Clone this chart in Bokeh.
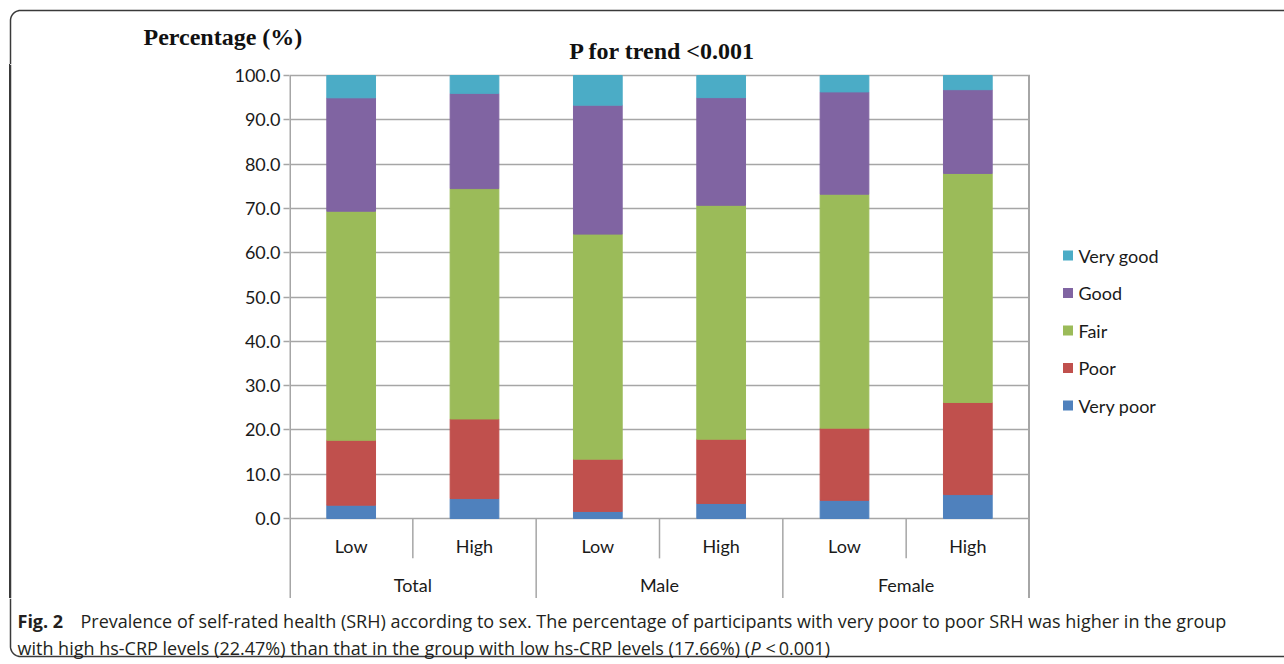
import numpy as np
from bokeh.plotting import figure
from bokeh.layouts import column, row
from bokeh.models import ColumnDataSource, Range1d, FixedTicker, NumeralTickFormatter
from bokeh.core.properties import value
from bokeh.embed import file_html
from bokeh.resources import INLINE

# ---- data ----
groups = ["Total", "Male", "Female"]
levels = ["Low", "High"]
series = ["Very poor", "Poor", "Fair", "Good", "Very good"]
very_poor = [3.0, 4.5, 1.6, 3.4, 4.1, 5.4]
poor = [14.66, 17.97, 11.8, 14.5, 16.3, 20.8]
fair = [51.7, 52.0, 50.8, 52.8, 52.8, 51.7]
good = [25.6, 21.5, 29.1, 24.3, 23.1, 18.9]
very_good = [5.04, 4.03, 6.7, 5.0, 3.7, 3.2]
y_ticks = [0, 10, 20, 30, 40, 50, 60, 70, 80, 90, 100]
colors = ["#4F81BD", "#C0504D", "#9BBB59", "#8064A2", "#4BACC6"]
y_title = "Percentage (%)"
chart_title = "P for trend <0.001"
cap_bold = "Fig. 2"
cap_line1 = ("Prevalence of self-rated health (SRH) according to sex. The percentage of participants "
             "with very poor to poor SRH was higher in the group")
cap_line2 = "with high hs-CRP levels (22.47%) than that in the group with low hs-CRP levels (17.66%) ("
cap_p = "P"
cap_end = "\u2009<\u20090.001)"

W, H = 1284, 664
TOP, BOT = 64, 598           # middle band spans canvas rows TOP..BOT
Y100, Y0 = 75, 518           # canvas rows of the 100 and 0 gridlines
LEFT = 200
BORDER = "#3a3a3a"
GRID = "#A6A6A6"
TXT = "#1a1a1a"
CAP = "#231F20"


def blank(width, height, x0, x1, y_top, y_bottom):
    f = figure(width=width, height=height, x_range=Range1d(x0, x1), y_range=Range1d(y_bottom, y_top),
               output_backend="svg", toolbar_location=None, x_axis_location=None,
               y_axis_location=None, min_border=0)
    f.outline_line_color = None
    f.xgrid.visible = False
    f.ygrid.visible = False
    f.background_fill_color = "white"
    f.border_fill_color = "white"
    return f


t = np.linspace(0, np.pi / 2, 12)

# ---- top band ----
top = blank(W, TOP, 0, W, 0, TOP)
cx, cy = 20 - 10 * np.cos(t), 20 - 10 * np.sin(t)
top.line(x=np.concatenate([[10], cx, [W + 5]]), y=np.concatenate([[TOP], cy, [10]]),
         line_color=BORDER, line_width=1.5)
top.text(x=[143], y=[36], text=[y_title], text_font=value("Liberation Serif"),
         text_font_style="bold", text_font_size=value("24px"), text_color="#111111",
         text_align="left", text_baseline="middle")
top.text(x=[662], y=[50], text=[chart_title], text_font=value("Liberation Serif"),
         text_font_style="bold", text_font_size=value("24px"), text_color="#111111",
         text_align="center", text_baseline="middle")

# ---- left band with border (glyph + CSS background as a fallback) ----
left = blank(LEFT, BOT - TOP, 0, LEFT, TOP, BOT)
left.background_fill_alpha = 0
left.border_fill_alpha = 0
left.styles = {"background": "linear-gradient(to right, #ffffff 0px, #ffffff 9px, #3a3a3a 9px, "
                             "#3a3a3a 10.5px, #ffffff 10.5px, #ffffff 100%)"}
left.quad(left=[9.25], right=[10.75], top=[TOP], bottom=[BOT], fill_color=BORDER, line_color=None)

# ---- main chart ----
n_lv = len(levels)
n_cat = len(groups) * n_lv
cat_labels = [l for g in groups for l in levels]
cat_x = np.arange(n_cat) + 0.5
grp_x = np.arange(len(groups)) * n_lv + n_lv / 2

keys = ["very_poor", "poor", "fair", "good", "very_good"]
src = ColumnDataSource(dict(x=cat_x, very_poor=very_poor, poor=poor, fair=fair,
                            good=good, very_good=very_good))

PPU = (Y0 - Y100) / 100.0
Y_LOW = -(BOT - Y0) / PPU
Y_HIGH = 100 + (Y100 - TOP) / PPU
FRAME_L = 289 - LEFT
FRAME_W = 741
p = figure(x_range=Range1d(0, n_cat * FRAME_W / 740), y_range=Range1d(Y_LOW, Y_HIGH),
           width=FRAME_L + FRAME_W, height=BOT - TOP, output_backend="svg", toolbar_location=None,
           min_border_left=FRAME_L, min_border_right=0, min_border_top=0, min_border_bottom=0)
p.outline_line_color = None
p.background_fill_color = "white"
p.border_fill_color = "white"

rs = p.vbar_stack(keys, x="x", width=0.395, color=colors, source=src)

p.xaxis.visible = False
p.xgrid.visible = False

yax = p.yaxis[0]
yax.ticker = FixedTicker(ticks=y_ticks)
yax.formatter = NumeralTickFormatter(format="0.0")
yax.axis_line_color = None
yax.major_tick_line_color = GRID
yax.major_tick_line_width = 1.5
yax.major_tick_out = 6
yax.major_tick_in = 0
yax.minor_tick_line_color = None
yax.major_label_text_font = "Lato"
yax.major_label_text_font_size = "18px"
yax.major_label_text_color = TXT
yax.major_label_standoff = 3

p.ygrid.ticker = FixedTicker(ticks=y_ticks)
p.ygrid.grid_line_color = GRID
p.ygrid.grid_line_width = 1.5

short_x = [gi * n_lv + j for gi in range(len(groups)) for j in range(1, n_lv)]
long_x = [gi * n_lv for gi in range(1, len(groups))]
p.segment(x0=[0, n_cat], x1=[0, n_cat], y0=[100, 100], y1=[Y_LOW, Y_LOW],
          line_color=GRID, line_width=3)
p.segment(x0=short_x, x1=short_x, y0=[0] * len(short_x), y1=[-9.0] * len(short_x),
          line_color=GRID, line_width=1.5)
p.segment(x0=long_x, x1=long_x, y0=[0] * len(long_x), y1=[Y_LOW] * len(long_x),
          line_color=GRID, line_width=1.5)

p.text(x=cat_x, y=[-6.1] * n_cat, text=cat_labels,
       text_font=value("Lato"), text_font_size=value("18px"), text_color=TXT,
       text_align="center", text_baseline="middle")
p.text(x=grp_x, y=[-15.0] * len(groups), text=groups,
       text_font=value("Lato"), text_font_size=value("18px"), text_color=TXT,
       text_align="center", text_baseline="middle")

# ---- legend band (right) ----
LX0 = LEFT + FRAME_L + FRAME_W
LW = 230
leg = blank(LW, BOT - TOP, LX0, LX0 + LW, TOP, BOT)
leg_series = series[::-1]
leg_colors = colors[::-1]
leg_y = 255 + 37.5 * np.arange(len(leg_series))
leg.rect(x=[1067.5] * len(leg_series), y=leg_y, width=10, height=10,
         fill_color=leg_colors, line_color=None)
leg.text(x=[1078] * len(leg_series), y=leg_y, text=leg_series, text_font=value("Lato"),
         text_font_size=value("18px"), text_color=TXT, text_align="left", text_baseline="middle")

# ---- bottom caption band ----
bot = blank(W, H - BOT, 0, W, BOT, H)
bx, by = 20 - 10 * np.cos(t), 646 + 10 * np.sin(t)
bot.line(x=np.concatenate([[10], bx, [W + 5]]), y=np.concatenate([[BOT], by, [656]]),
         line_color=BORDER, line_width=1.5)
cap_font = value("Open Sans")
CS = value("18px")
bot.text(x=[17], y=[620], text=[cap_bold], text_font=cap_font, text_font_style="bold",
         text_font_size=CS, text_color=CAP, text_baseline="middle")
bot.text(x=[80, 17], y=[620, 647], text=[cap_line1, cap_line2], text_font=cap_font,
         text_font_size=CS, text_color=CAP, text_baseline="middle")
bot.text(x=[750], y=[647], text=[cap_p], text_font=cap_font, text_font_style="italic",
         text_font_size=CS, text_color=CAP, text_baseline="middle")
bot.text(x=[762], y=[647], text=[cap_end], text_font=cap_font,
         text_font_size=CS, text_color=CAP, text_baseline="middle")

layout = column(top, row(left, p, leg), bot)
open("out.html", "w").write(file_html(layout, INLINE))
